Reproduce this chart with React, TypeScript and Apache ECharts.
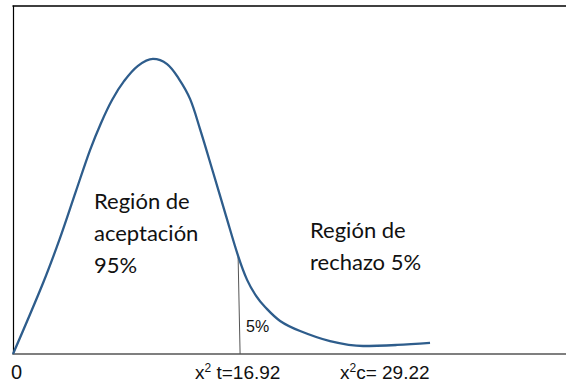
import React, { useEffect, useRef } from "react";
import * as echarts from "echarts";

// Chi-square style density curve, x in chi-square units, y in relative units (0-100)
const curveX = [0, 2.24, 3.5, 4.69, 5.74, 6.56, 7.38, 8.27, 9.31, 10.43, 11.48, 12.37, 13.19, 13.93, 14.9, 15.87, 16.77, 17.44, 18.11, 18.78, 19.9, 21.39, 23.62, 26.08, 28.61, 31.07];
const curveY = [0, 20.4, 33.3, 46.8, 58.6, 66.4, 73.0, 78.4, 82.8, 84.8, 83.3, 79.0, 73.3, 64.7, 52.3, 39.7, 28.2, 21.3, 16.7, 13.5, 9.5, 6.6, 3.7, 2.3, 2.6, 3.2];

// Critical value line (bottom point, point where it meets the curve)
const critX = [16.92, 16.77];
const critY = [0, 28.2];

const xMax = 41.2;
const yMax = 100;

const leftText = ["Región de", "aceptación", "95%"];
const rightText = ["Región de", "rechazo 5%"];
const tailLabel = "5%";
const zeroLabel = "0";
const tLabel = ["x", "2", " t=16.92"];
const cLabel = ["x", "2", "c= 29.22"];

export default function App() {
  const ref = useRef<HTMLDivElement>(null);
  useEffect(() => {
    if (!ref.current) return;
    const chart = echarts.init(ref.current, null, { renderer: "svg" });
    const bodyFont = "Lato, 'Open Sans', sans-serif";
    const axisFont = "'Liberation Sans', Arial, sans-serif";
    const richLabel = (parts: string[]) => ({
      text: `{n|${parts[0]}}{s|${parts[1]}}{n|${parts[2]}}`,
      rich: {
        n: { fontSize: 19, lineHeight: 20, fontFamily: axisFont, fill: "#111" },
        s: { fontSize: 12, lineHeight: 12, fontFamily: axisFont, fill: "#111", verticalAlign: "top" },
      },
    });
    chart.setOption({
      animation: false,
      backgroundColor: "#ffffff",
      grid: { left: 13, right: 0, top: 6, bottom: 31, containLabel: false },
      xAxis: [
        {
          type: "value",
          min: 0,
          max: xMax,
          axisLine: { show: true, onZero: false, lineStyle: { color: "#7f7f7f", width: 2 } },
          axisTick: { show: false },
          axisLabel: { show: false },
          splitLine: { show: false },
        },
        {
          type: "value",
          position: "top",
          min: 0,
          max: xMax,
          axisLine: { show: true, onZero: false, lineStyle: { color: "#000", width: 1.5 } },
          axisTick: { show: false },
          axisLabel: { show: false },
          splitLine: { show: false },
        },
      ],
      yAxis: {
        type: "value",
        min: 0,
        max: yMax,
        axisLine: { show: true, onZero: false, lineStyle: { color: "#000", width: 1.2 } },
        axisTick: { show: false },
        axisLabel: { show: false },
        splitLine: { show: false },
      },
      series: [
        {
          type: "line",
          data: curveX.map((x, i) => [x, curveY[i]]),
          smooth: 0.35,
          symbol: "none",
          lineStyle: { color: "#2E5D8C", width: 2.3 },
          z: 3,
        },
        {
          type: "line",
          data: critX.map((x, i) => [x, critY[i]]),
          symbol: "none",
          lineStyle: { color: "#555", width: 1 },
          z: 2,
        },
      ],
      graphic: [
        ...leftText.map((t, i) => ({
          type: "text",
          left: 94,
          top: 189 + i * 32,
          style: { text: t, fontSize: 22, fontFamily: bodyFont, fill: "#111" },
        })),
        ...rightText.map((t, i) => ({
          type: "text",
          left: 310,
          top: 218 + i * 32,
          style: { text: t, fontSize: 22, fontFamily: bodyFont, fill: "#111" },
        })),
        {
          type: "text",
          left: 246,
          top: 318,
          style: { text: tailLabel, fontSize: 16, fontFamily: axisFont, fill: "#111" },
        },
        {
          type: "text",
          left: 11,
          top: 362,
          style: { text: zeroLabel, fontSize: 20, fontFamily: axisFont, fill: "#111" },
        },
        {
          type: "text",
          left: 195,
          top: 362,
          style: richLabel(tLabel),
        },
        {
          type: "text",
          left: 340,
          top: 362,
          style: richLabel(cLabel),
        },
      ],
    });
    return () => chart.dispose();
  }, []);
  return (
    <div
      ref={ref}
      style={{ position: "fixed", left: 0, top: 0, width: 566, height: 385, background: "#fff" }}
    />
  );
}
